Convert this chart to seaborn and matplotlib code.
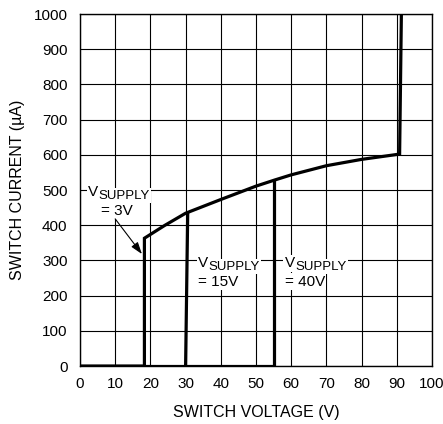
import matplotlib
matplotlib.use("Agg")
import matplotlib.pyplot as plt
import matplotlib.transforms as mtrans
import seaborn as sns
import pandas as pd
from matplotlib import font_manager

sns.set_theme(style="white")
names = {f.name for f in font_manager.fontManager.ttflist}
fam = "Liberation Sans Narrow" if "Liberation Sans Narrow" in names else "Liberation Sans"
plt.rcParams["font.family"] = [fam, "DejaVu Sans"]
for k in ["text.color", "axes.labelcolor", "xtick.color", "ytick.color", "xtick.labelcolor", "ytick.labelcolor"]:
    plt.rcParams[k] = "black"

# Data (switch voltage V, switch current uA)
main_v = [0, 18.3, 18.3, 24, 30.0, 40, 50, 55.2, 60, 70, 80, 90.8, 91.3]
main_i = [0, 0, 363, 399, 434, 473, 511, 528, 543, 569, 587, 602, 1000]
base_v = [18.3, 55.2]
base_i = [0, 0]
drop15_v = [30.0, 30.6]
drop15_i = [0, 434]
drop40_v = [55.2, 55.2]
drop40_i = [0, 528]

x_ticks = [0, 10, 20, 30, 40, 50, 60, 70, 80, 90, 100]
y_ticks = [0, 100, 200, 300, 400, 500, 600, 700, 800, 900, 1000]
labels = ["= 3V", "= 15V", "= 40V"]

fig = plt.figure(figsize=(4.43, 4.24), dpi=100)
ax = fig.add_axes([80/443, 1 - 366/424, 352/443, 352/424])

lw = 2.3
for xs, ys in [(main_v, main_i), (base_v, base_i), (drop15_v, drop15_i), (drop40_v, drop40_i)]:
    df = pd.DataFrame({"v": xs, "i": ys})
    sns.lineplot(data=df, x="v", y="i", sort=False, estimator=None, color="black",
                 linewidth=lw, ax=ax, zorder=3, solid_joinstyle="miter")

ax.set_xlim(0, 100)
ax.set_ylim(0, 1000)
ax.set_xticks(x_ticks)
ax.set_yticks(y_ticks)
ax.set_xticklabels([str(t) for t in x_ticks], fontsize=11, color="black")
ax.set_yticklabels([str(t) for t in y_ticks], fontsize=11, color="black")
ax.tick_params(length=0)
ax.tick_params(axis="x", pad=8)
ax.tick_params(axis="y", pad=9)
ax.grid(True, color="black", linewidth=0.8)
for s in ax.spines.values():
    s.set_color("black")
    s.set_linewidth(1.0)
ax.set_xlabel("SWITCH VOLTAGE (V)", fontsize=11.5, labelpad=10, color="black")
ax.set_ylabel("SWITCH CURRENT (µA)", fontsize=11.5, labelpad=6, color="black")

bbox = dict(facecolor="white", edgecolor="none", pad=1.0)


def vsupply(x, y):
    ax.text(x, y, "V", fontsize=11, ha="left", va="center", bbox=bbox, zorder=4, color="black")
    tr = mtrans.offset_copy(ax.transData, fig=fig, x=7.5, y=-2.5, units="points")
    ax.text(x, y, "SUPPLY", fontsize=9.5, ha="left", va="center", bbox=bbox,
            zorder=4, transform=tr, color="black")


vsupply(2.3, 494)
ax.text(6.0, 440, labels[0], fontsize=11, ha="left", va="center", bbox=bbox, zorder=4, color="black")
vsupply(33.5, 292)
ax.text(33.5, 239, labels[1], fontsize=11, ha="left", va="center", bbox=bbox, zorder=4, color="black")
vsupply(58.2, 292)
ax.text(58.2, 239, labels[2], fontsize=11, ha="left", va="center", bbox=bbox, zorder=4, color="black")
ax.annotate("", xy=(17.6, 318), xytext=(10, 418),
            arrowprops=dict(arrowstyle="-|>,head_length=0.6,head_width=0.2", color="black",
                            lw=0.8, mutation_scale=12, shrinkA=0, shrinkB=0), zorder=4)

fig.savefig("out.png", dpi=100)
